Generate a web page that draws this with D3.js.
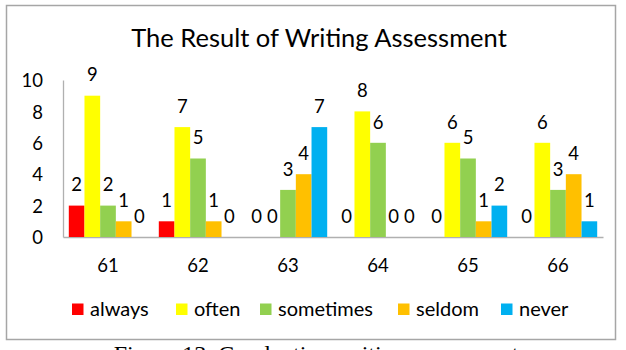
<!DOCTYPE html>
<html>
<head>
<meta charset="utf-8">
<script src="https://cdn.jsdelivr.net/npm/d3@7"></script>
<style>
  body { margin: 0; background: #fff; }
  svg text { font-family: Lato, "Open Sans", sans-serif; fill: #000; }
</style>
</head>
<body>
<div id="chart-area"></div>
<script>
// data
var categories = ['61', '62', '63', '64', '65', '66'];
var seriesNames = ['always', 'often', 'sometimes', 'seldom', 'never'];
var always    = [2, 1, 0, 0, 0, 0];
var often     = [9, 7, 0, 8, 6, 6];
var sometimes = [2, 5, 3, 6, 5, 3];
var seldom    = [1, 1, 4, 0, 1, 4];
var never     = [0, 0, 7, 0, 2, 1];
var yTicks = [0, 2, 4, 6, 8, 10];
var colors = ['#ff0000', '#ffff00', '#92d050', '#ffc000', '#00b0f0'];

var values = [always, often, sometimes, seldom, never];

var width = 626, height = 350;
var svg = d3.select('#chart-area').append('svg')
  .attr('width', width)
  .attr('height', height);

// chart frame
svg.append('rect')
  .attr('x', 6.5).attr('y', 5.5)
  .attr('width', 609).attr('height', 334)
  .attr('fill', '#fff')
  .attr('stroke', '#a6a6a6')
  .attr('stroke-width', 1.5);

// title
svg.append('text')
  .attr('x', 319).attr('y', 47)
  .attr('text-anchor', 'middle')
  .style('font-size', '25.5px')
  .text('The Result of Writing Assessment');

// scales
var x = d3.scaleBand().domain(categories).range([63, 603]);
var xs = d3.scaleBand().domain(seriesNames).range([0, x.bandwidth()]).paddingOuter(0.37);
var y = d3.scaleLinear().domain([0, 10]).range([237, 80]);

// y axis
var yAxis = svg.append('g')
  .attr('transform', 'translate(63,0)')
  .call(d3.axisLeft(y).tickValues(yTicks).tickSize(0).tickPadding(20));
yAxis.select('.domain').attr('stroke', '#b0b0b0').attr('stroke-width', 1.3);
yAxis.selectAll('text').style('font-size', '18.5px').attr('dy', '0.36em');

// x axis
var xAxis = svg.append('g')
  .attr('transform', 'translate(0,237)')
  .call(d3.axisBottom(x).tickSize(0).tickPadding(0));
xAxis.select('.domain').attr('stroke', '#b0b0b0').attr('stroke-width', 1.5);
xAxis.selectAll('text').style('font-size', '18.5px').attr('dy', null).attr('y', 34.5);

// bars and labels
seriesNames.forEach(function(name, s) {
  var g = svg.append('g').attr('class', 'series-' + name);
  g.selectAll('rect')
    .data(values[s])
    .enter().append('rect')
    .attr('x', function(d, i) { return x(categories[i]) + xs(name); })
    .attr('y', function(d) { return y(d); })
    .attr('width', xs.bandwidth())
    .attr('height', function(d) { return y(0) - y(d); })
    .attr('fill', colors[s]);
  g.selectAll('text')
    .data(values[s])
    .enter().append('text')
    .attr('x', function(d, i) { return x(categories[i]) + xs(name) + xs.bandwidth() / 2; })
    .attr('y', function(d) { return y(d) - 14.3; })
    .attr('text-anchor', 'middle')
    .style('font-size', '18.5px')
    .text(function(d) { return d; });
});

// legend
var legendX = [72, 176, 260, 398, 501];
var legend = svg.append('g').attr('class', 'legend');
seriesNames.forEach(function(name, s) {
  legend.append('rect')
    .attr('x', legendX[s]).attr('y', 303.5)
    .attr('width', 11.5).attr('height', 11.5)
    .attr('fill', colors[s]);
  legend.append('text')
    .attr('x', legendX[s] + 18).attr('y', 315.5)
    .style('font-size', '20px')
    .text(name);
});

// figure caption (cut at the page edge, as in the source)
svg.append('text')
  .attr('x', 316).attr('y', 362)
  .attr('text-anchor', 'middle')
  .style('font-family', '"Liberation Serif", serif')
  .style('font-size', '24px')
  .text('Figure 13. Conducting writing assessment');
</script>
</body>
</html>
